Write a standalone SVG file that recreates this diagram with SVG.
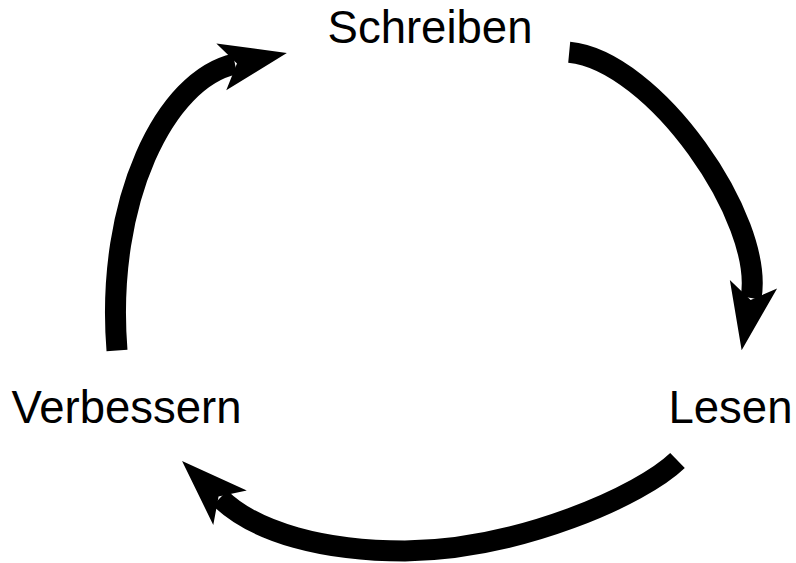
<svg xmlns="http://www.w3.org/2000/svg" width="796" height="563" viewBox="0 0 796 563">
<style>
.lbl{font-family:"Liberation Sans",Arial,sans-serif;font-size:45.5px;fill:#000;text-anchor:middle}
.arc{fill:none;stroke:#000;stroke-width:21;stroke-linecap:butt;marker-end:url(#head)}
</style>
<defs>
<marker id="head" markerUnits="userSpaceOnUse" orient="auto" refX="0" refY="0" markerWidth="100" markerHeight="100" overflow="visible">
<path d="M53,0 L-14,-24 L2,0 L-14,24 Z" fill="#000"/>
</marker>
</defs>
<rect width="796" height="563" fill="#fff"/>
<g id="connectors">
<path class="arc" d="M117,350.5 C105,201 165.6,78.6 235,64"/>
<path class="arc" d="M569.2,52.3 C653.8,60.4 765.1,219.3 751,298"/>
<path class="arc" d="M677.5,460.5 C641.5,495.3 520,549.5 405,551 C325,551 255.8,532.9 220,498"/>
</g>
<g id="schreiben"><text class="lbl" x="430" y="43">Schreiben</text></g>
<g id="lesen"><text class="lbl" x="730.5" y="423">Lesen</text></g>
<g id="verbessern"><text class="lbl" x="126.5" y="423">Verbessern</text></g>
</svg>
